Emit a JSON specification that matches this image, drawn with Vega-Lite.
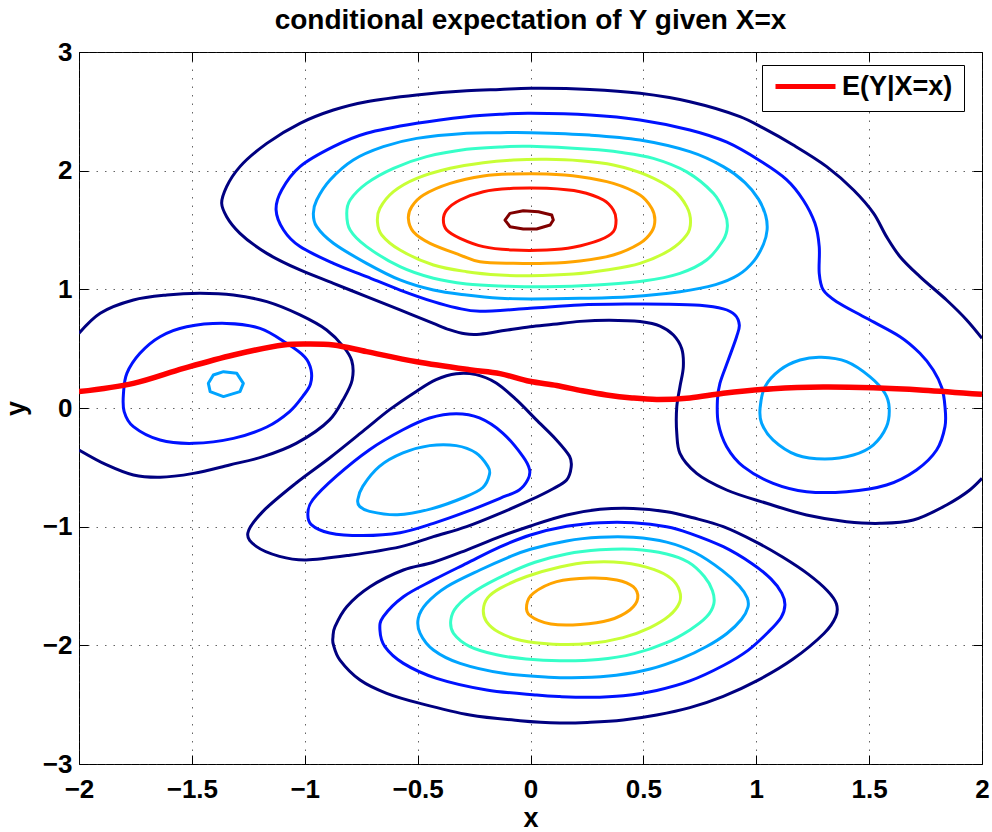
{
  "$schema": "https://vega.github.io/schema/vega-lite/v6.json",
  "width": 903,
  "height": 712,
  "autosize": {"type": "none"},
  "padding": {"left": 79, "top": 52, "right": 10, "bottom": 68},
  "background": "white",
  "title": {
    "text": "conditional expectation of Y given X=x",
    "font": "Liberation Sans",
    "fontSize": 28,
    "fontWeight": "bold",
    "color": "black",
    "anchor": "middle",
    "baseline": "alphabetic",
    "offset": -18
  },
  "config": {
    "view": {"stroke": "black", "strokeWidth": 1},
    "font": "Liberation Sans"
  },
  "datasets": {
    "open": [
      {"p":"n_top","lv":1,"i":0,"x":2.0,"y":-0.593},{"p":"n_top","lv":1,"i":1,"x":1.946,"y":-0.691},{"p":"n_top","lv":1,"i":2,"x":1.843,"y":-0.817},{"p":"n_top","lv":1,"i":3,"x":1.696,"y":-0.944},{"p":"n_top","lv":1,"i":4,"x":1.548,"y":-0.972},{"p":"n_top","lv":1,"i":5,"x":1.4,"y":-0.958},{"p":"n_top","lv":1,"i":6,"x":1.223,"y":-0.902},{"p":"n_top","lv":1,"i":7,"x":1.046,"y":-0.803},{"p":"n_top","lv":1,"i":8,"x":0.869,"y":-0.691},{"p":"n_top","lv":1,"i":9,"x":0.736,"y":-0.551},{"p":"n_top","lv":1,"i":10,"x":0.662,"y":-0.382},{"p":"n_top","lv":1,"i":11,"x":0.648,"y":-0.213},{"p":"n_top","lv":1,"i":12,"x":0.648,"y":0.011},{"p":"n_top","lv":1,"i":13,"x":0.662,"y":0.18},{"p":"n_top","lv":1,"i":14,"x":0.677,"y":0.348},{"p":"n_top","lv":1,"i":15,"x":0.67,"y":0.5},{"p":"n_top","lv":1,"i":16,"x":0.633,"y":0.615},{"p":"n_top","lv":1,"i":17,"x":0.574,"y":0.69},{"p":"n_top","lv":1,"i":18,"x":0.485,"y":0.728},{"p":"n_top","lv":1,"i":19,"x":0.35,"y":0.74},{"p":"n_top","lv":1,"i":20,"x":0.219,"y":0.73},{"p":"n_top","lv":1,"i":21,"x":0.1,"y":0.705},{"p":"n_top","lv":1,"i":22,"x":-0.002,"y":0.685},{"p":"n_top","lv":1,"i":23,"x":-0.11,"y":0.655},{"p":"n_top","lv":1,"i":24,"x":-0.224,"y":0.622},{"p":"n_top","lv":1,"i":25,"x":-0.29,"y":0.625},{"p":"n_top","lv":1,"i":26,"x":-0.36,"y":0.66},{"p":"n_top","lv":1,"i":27,"x":-0.43,"y":0.713},{"p":"n_top","lv":1,"i":28,"x":-0.578,"y":0.826},{"p":"n_top","lv":1,"i":29,"x":-0.726,"y":0.938},{"p":"n_top","lv":1,"i":30,"x":-0.873,"y":1.051},{"p":"n_top","lv":1,"i":31,"x":-1.021,"y":1.163},{"p":"n_top","lv":1,"i":32,"x":-1.168,"y":1.303},{"p":"n_top","lv":1,"i":33,"x":-1.287,"y":1.472},{"p":"n_top","lv":1,"i":34,"x":-1.346,"y":1.612},{"p":"n_top","lv":1,"i":35,"x":-1.368,"y":1.725},{"p":"n_top","lv":1,"i":36,"x":-1.346,"y":1.865},{"p":"n_top","lv":1,"i":37,"x":-1.287,"y":2.034},{"p":"n_top","lv":1,"i":38,"x":-1.168,"y":2.23},{"p":"n_top","lv":1,"i":39,"x":-1.021,"y":2.399},{"p":"n_top","lv":1,"i":40,"x":-0.873,"y":2.511},{"p":"n_top","lv":1,"i":41,"x":-0.726,"y":2.581},{"p":"n_top","lv":1,"i":42,"x":-0.504,"y":2.638},{"p":"n_top","lv":1,"i":43,"x":-0.283,"y":2.674},{"p":"n_top","lv":1,"i":44,"x":-0.135,"y":2.685},{"p":"n_top","lv":1,"i":45,"x":0.0,"y":2.694},{"p":"n_top","lv":1,"i":46,"x":0.263,"y":2.685},{"p":"n_top","lv":1,"i":47,"x":0.485,"y":2.652},{"p":"n_top","lv":1,"i":48,"x":0.706,"y":2.581},{"p":"n_top","lv":1,"i":49,"x":0.928,"y":2.455},{"p":"n_top","lv":1,"i":50,"x":1.03,"y":2.36},{"p":"n_top","lv":1,"i":51,"x":1.164,"y":2.216},{"p":"n_top","lv":1,"i":52,"x":1.312,"y":2.034},{"p":"n_top","lv":1,"i":53,"x":1.431,"y":1.837},{"p":"n_top","lv":1,"i":54,"x":1.52,"y":1.64},{"p":"n_top","lv":1,"i":55,"x":1.577,"y":1.444},{"p":"n_top","lv":1,"i":56,"x":1.637,"y":1.275},{"p":"n_top","lv":1,"i":57,"x":1.725,"y":1.107},{"p":"n_top","lv":1,"i":58,"x":1.843,"y":0.91},{"p":"n_top","lv":1,"i":59,"x":1.932,"y":0.742},{"p":"n_top","lv":1,"i":60,"x":2.0,"y":0.587},
      {"p":"n_left","lv":1,"i":0,"x":-2.0,"y":0.629},{"p":"n_left","lv":1,"i":1,"x":-1.906,"y":0.798},{"p":"n_left","lv":1,"i":2,"x":-1.759,"y":0.91},{"p":"n_left","lv":1,"i":3,"x":-1.611,"y":0.952},{"p":"n_left","lv":1,"i":4,"x":-1.464,"y":0.966},{"p":"n_left","lv":1,"i":5,"x":-1.316,"y":0.952},{"p":"n_left","lv":1,"i":6,"x":-1.168,"y":0.896},{"p":"n_left","lv":1,"i":7,"x":-1.021,"y":0.784},{"p":"n_left","lv":1,"i":8,"x":-0.903,"y":0.657},{"p":"n_left","lv":1,"i":9,"x":-0.829,"y":0.517},{"p":"n_left","lv":1,"i":10,"x":-0.792,"y":0.4},{"p":"n_left","lv":1,"i":11,"x":-0.79,"y":0.236},{"p":"n_left","lv":1,"i":12,"x":-0.831,"y":0.067},{"p":"n_left","lv":1,"i":13,"x":-0.89,"y":-0.1},{"p":"n_left","lv":1,"i":14,"x":-1.038,"y":-0.298},{"p":"n_left","lv":1,"i":15,"x":-1.185,"y":-0.41},{"p":"n_left","lv":1,"i":16,"x":-1.333,"y":-0.48},{"p":"n_left","lv":1,"i":17,"x":-1.493,"y":-0.551},{"p":"n_left","lv":1,"i":18,"x":-1.641,"y":-0.584},{"p":"n_left","lv":1,"i":19,"x":-1.759,"y":-0.565},{"p":"n_left","lv":1,"i":20,"x":-1.877,"y":-0.48},{"p":"n_left","lv":1,"i":21,"x":-2.0,"y":-0.354}
    ],
    "closed": [
      {"p":"n_mid","lv":1,"i":0,"x":-1.252,"y":-1.053},{"p":"n_mid","lv":1,"i":1,"x":-1.185,"y":-0.871},{"p":"n_mid","lv":1,"i":2,"x":-1.038,"y":-0.632},{"p":"n_mid","lv":1,"i":3,"x":-0.89,"y":-0.421},{"p":"n_mid","lv":1,"i":4,"x":-0.743,"y":-0.197},{"p":"n_mid","lv":1,"i":5,"x":-0.624,"y":-0.014},{"p":"n_mid","lv":1,"i":6,"x":-0.506,"y":0.14},{"p":"n_mid","lv":1,"i":7,"x":-0.418,"y":0.239},{"p":"n_mid","lv":1,"i":8,"x":-0.329,"y":0.289},{"p":"n_mid","lv":1,"i":9,"x":-0.241,"y":0.281},{"p":"n_mid","lv":1,"i":10,"x":-0.152,"y":0.211},{"p":"n_mid","lv":1,"i":11,"x":-0.063,"y":0.07},{"p":"n_mid","lv":1,"i":12,"x":0.025,"y":-0.098},{"p":"n_mid","lv":1,"i":13,"x":0.114,"y":-0.267},{"p":"n_mid","lv":1,"i":14,"x":0.173,"y":-0.407},{"p":"n_mid","lv":1,"i":15,"x":0.18,"y":-0.5},{"p":"n_mid","lv":1,"i":16,"x":0.16,"y":-0.607},{"p":"n_mid","lv":1,"i":17,"x":0.1,"y":-0.68},{"p":"n_mid","lv":1,"i":18,"x":0.0,"y":-0.775},{"p":"n_mid","lv":1,"i":19,"x":-0.135,"y":-0.888},{"p":"n_mid","lv":1,"i":20,"x":-0.283,"y":-1.0},{"p":"n_mid","lv":1,"i":21,"x":-0.43,"y":-1.084},{"p":"n_mid","lv":1,"i":22,"x":-0.578,"y":-1.17},{"p":"n_mid","lv":1,"i":23,"x":-0.8,"y":-1.24},{"p":"n_mid","lv":1,"i":24,"x":-0.994,"y":-1.28},{"p":"n_mid","lv":1,"i":25,"x":-1.112,"y":-1.25},{"p":"n_mid","lv":1,"i":26,"x":-1.215,"y":-1.166},
      {"p":"n_bot","lv":1,"i":0,"x":-0.875,"y":-1.93},{"p":"n_bot","lv":1,"i":1,"x":-0.866,"y":-1.843},{"p":"n_bot","lv":1,"i":2,"x":-0.814,"y":-1.674},{"p":"n_bot","lv":1,"i":3,"x":-0.711,"y":-1.506},{"p":"n_bot","lv":1,"i":4,"x":-0.563,"y":-1.365},{"p":"n_bot","lv":1,"i":5,"x":-0.43,"y":-1.3},{"p":"n_bot","lv":1,"i":6,"x":-0.283,"y":-1.197},{"p":"n_bot","lv":1,"i":7,"x":-0.135,"y":-1.084},{"p":"n_bot","lv":1,"i":8,"x":0.0,"y":-0.994},{"p":"n_bot","lv":1,"i":9,"x":0.16,"y":-0.902},{"p":"n_bot","lv":1,"i":10,"x":0.308,"y":-0.854},{"p":"n_bot","lv":1,"i":11,"x":0.455,"y":-0.846},{"p":"n_bot","lv":1,"i":12,"x":0.603,"y":-0.874},{"p":"n_bot","lv":1,"i":13,"x":0.72,"y":-0.925},{"p":"n_bot","lv":1,"i":14,"x":0.854,"y":-1.0},{"p":"n_bot","lv":1,"i":15,"x":1.0,"y":-1.13},{"p":"n_bot","lv":1,"i":16,"x":1.12,"y":-1.26},{"p":"n_bot","lv":1,"i":17,"x":1.23,"y":-1.4},{"p":"n_bot","lv":1,"i":18,"x":1.315,"y":-1.54},{"p":"n_bot","lv":1,"i":19,"x":1.355,"y":-1.65},{"p":"n_bot","lv":1,"i":20,"x":1.352,"y":-1.76},{"p":"n_bot","lv":1,"i":21,"x":1.3,"y":-1.9},{"p":"n_bot","lv":1,"i":22,"x":1.16,"y":-2.12},{"p":"n_bot","lv":1,"i":23,"x":1.002,"y":-2.3},{"p":"n_bot","lv":1,"i":24,"x":0.854,"y":-2.43},{"p":"n_bot","lv":1,"i":25,"x":0.706,"y":-2.525},{"p":"n_bot","lv":1,"i":26,"x":0.559,"y":-2.587},{"p":"n_bot","lv":1,"i":27,"x":0.411,"y":-2.629},{"p":"n_bot","lv":1,"i":28,"x":0.264,"y":-2.649},{"p":"n_bot","lv":1,"i":29,"x":0.13,"y":-2.655},{"p":"n_bot","lv":1,"i":30,"x":-0.047,"y":-2.635},{"p":"n_bot","lv":1,"i":31,"x":-0.268,"y":-2.587},{"p":"n_bot","lv":1,"i":32,"x":-0.489,"y":-2.489},{"p":"n_bot","lv":1,"i":33,"x":-0.637,"y":-2.404},{"p":"n_bot","lv":1,"i":34,"x":-0.755,"y":-2.292},{"p":"n_bot","lv":1,"i":35,"x":-0.844,"y":-2.124},{"p":"n_bot","lv":1,"i":36,"x":-0.873,"y":-1.995},
      {"p":"b_top","lv":2,"i":0,"x":-1.127,"y":1.67},{"p":"b_top","lv":2,"i":1,"x":-1.102,"y":1.837},{"p":"b_top","lv":2,"i":2,"x":-1.021,"y":2.034},{"p":"b_top","lv":2,"i":3,"x":-0.873,"y":2.202},{"p":"b_top","lv":2,"i":4,"x":-0.726,"y":2.315},{"p":"b_top","lv":2,"i":5,"x":-0.504,"y":2.399},{"p":"b_top","lv":2,"i":6,"x":-0.283,"y":2.455},{"p":"b_top","lv":2,"i":7,"x":-0.135,"y":2.475},{"p":"b_top","lv":2,"i":8,"x":0.0,"y":2.483},{"p":"b_top","lv":2,"i":9,"x":0.263,"y":2.469},{"p":"b_top","lv":2,"i":10,"x":0.485,"y":2.427},{"p":"b_top","lv":2,"i":11,"x":0.706,"y":2.343},{"p":"b_top","lv":2,"i":12,"x":0.87,"y":2.24},{"p":"b_top","lv":2,"i":13,"x":1.02,"y":2.08},{"p":"b_top","lv":2,"i":14,"x":1.134,"y":1.925},{"p":"b_top","lv":2,"i":15,"x":1.208,"y":1.753},{"p":"b_top","lv":2,"i":16,"x":1.26,"y":1.556},{"p":"b_top","lv":2,"i":17,"x":1.279,"y":1.36},{"p":"b_top","lv":2,"i":18,"x":1.279,"y":1.135},{"p":"b_top","lv":2,"i":19,"x":1.297,"y":0.994},{"p":"b_top","lv":2,"i":20,"x":1.356,"y":0.896},{"p":"b_top","lv":2,"i":21,"x":1.489,"y":0.756},{"p":"b_top","lv":2,"i":22,"x":1.637,"y":0.601},{"p":"b_top","lv":2,"i":23,"x":1.725,"y":0.461},{"p":"b_top","lv":2,"i":24,"x":1.784,"y":0.32},{"p":"b_top","lv":2,"i":25,"x":1.822,"y":0.17},{"p":"b_top","lv":2,"i":26,"x":1.836,"y":0.011},{"p":"b_top","lv":2,"i":27,"x":1.836,"y":-0.157},{"p":"b_top","lv":2,"i":28,"x":1.799,"y":-0.354},{"p":"b_top","lv":2,"i":29,"x":1.71,"y":-0.522},{"p":"b_top","lv":2,"i":30,"x":1.577,"y":-0.649},{"p":"b_top","lv":2,"i":31,"x":1.4,"y":-0.705},{"p":"b_top","lv":2,"i":32,"x":1.223,"y":-0.705},{"p":"b_top","lv":2,"i":33,"x":1.075,"y":-0.635},{"p":"b_top","lv":2,"i":34,"x":0.943,"y":-0.494},{"p":"b_top","lv":2,"i":35,"x":0.869,"y":-0.326},{"p":"b_top","lv":2,"i":36,"x":0.832,"y":-0.129},{"p":"b_top","lv":2,"i":37,"x":0.828,"y":0.067},{"p":"b_top","lv":2,"i":38,"x":0.839,"y":0.208},{"p":"b_top","lv":2,"i":39,"x":0.876,"y":0.404},{"p":"b_top","lv":2,"i":40,"x":0.913,"y":0.601},{"p":"b_top","lv":2,"i":41,"x":0.925,"y":0.699},{"p":"b_top","lv":2,"i":42,"x":0.906,"y":0.784},{"p":"b_top","lv":2,"i":43,"x":0.854,"y":0.835},{"p":"b_top","lv":2,"i":44,"x":0.75,"y":0.865},{"p":"b_top","lv":2,"i":45,"x":0.6,"y":0.875},{"p":"b_top","lv":2,"i":46,"x":0.441,"y":0.876},{"p":"b_top","lv":2,"i":47,"x":0.219,"y":0.868},{"p":"b_top","lv":2,"i":48,"x":-0.002,"y":0.84},{"p":"b_top","lv":2,"i":49,"x":-0.224,"y":0.815},{"p":"b_top","lv":2,"i":50,"x":-0.33,"y":0.845},{"p":"b_top","lv":2,"i":51,"x":-0.43,"y":0.896},{"p":"b_top","lv":2,"i":52,"x":-0.578,"y":0.994},{"p":"b_top","lv":2,"i":53,"x":-0.726,"y":1.107},{"p":"b_top","lv":2,"i":54,"x":-0.873,"y":1.219},{"p":"b_top","lv":2,"i":55,"x":-1.021,"y":1.36},{"p":"b_top","lv":2,"i":56,"x":-1.094,"y":1.5},
      {"p":"b_left","lv":2,"i":0,"x":-1.803,"y":0.124},{"p":"b_left","lv":2,"i":1,"x":-1.788,"y":0.292},{"p":"b_left","lv":2,"i":2,"x":-1.73,"y":0.461},{"p":"b_left","lv":2,"i":3,"x":-1.641,"y":0.601},{"p":"b_left","lv":2,"i":4,"x":-1.523,"y":0.685},{"p":"b_left","lv":2,"i":5,"x":-1.346,"y":0.713},{"p":"b_left","lv":2,"i":6,"x":-1.198,"y":0.671},{"p":"b_left","lv":2,"i":7,"x":-1.08,"y":0.545},{"p":"b_left","lv":2,"i":8,"x":-1.0,"y":0.43},{"p":"b_left","lv":2,"i":9,"x":-0.972,"y":0.32},{"p":"b_left","lv":2,"i":10,"x":-0.975,"y":0.2},{"p":"b_left","lv":2,"i":11,"x":-1.008,"y":0.1},{"p":"b_left","lv":2,"i":12,"x":-1.067,"y":-0.03},{"p":"b_left","lv":2,"i":13,"x":-1.168,"y":-0.16},{"p":"b_left","lv":2,"i":14,"x":-1.316,"y":-0.256},{"p":"b_left","lv":2,"i":15,"x":-1.493,"y":-0.298},{"p":"b_left","lv":2,"i":16,"x":-1.641,"y":-0.27},{"p":"b_left","lv":2,"i":17,"x":-1.759,"y":-0.157},{"p":"b_left","lv":2,"i":18,"x":-1.8,"y":-0.03},
      {"p":"b_mid","lv":2,"i":0,"x":-0.986,"y":-0.885},{"p":"b_mid","lv":2,"i":1,"x":-0.964,"y":-0.772},{"p":"b_mid","lv":2,"i":2,"x":-0.861,"y":-0.576},{"p":"b_mid","lv":2,"i":3,"x":-0.713,"y":-0.351},{"p":"b_mid","lv":2,"i":4,"x":-0.565,"y":-0.183},{"p":"b_mid","lv":2,"i":5,"x":-0.447,"y":-0.084},{"p":"b_mid","lv":2,"i":6,"x":-0.329,"y":-0.048},{"p":"b_mid","lv":2,"i":7,"x":-0.226,"y":-0.084},{"p":"b_mid","lv":2,"i":8,"x":-0.123,"y":-0.211},{"p":"b_mid","lv":2,"i":9,"x":-0.034,"y":-0.407},{"p":"b_mid","lv":2,"i":10,"x":-0.004,"y":-0.52},{"p":"b_mid","lv":2,"i":11,"x":-0.012,"y":-0.604},{"p":"b_mid","lv":2,"i":12,"x":-0.05,"y":-0.69},{"p":"b_mid","lv":2,"i":13,"x":-0.135,"y":-0.761},{"p":"b_mid","lv":2,"i":14,"x":-0.283,"y":-0.874},{"p":"b_mid","lv":2,"i":15,"x":-0.43,"y":-0.972},{"p":"b_mid","lv":2,"i":16,"x":-0.578,"y":-1.051},{"p":"b_mid","lv":2,"i":17,"x":-0.743,"y":-1.075},{"p":"b_mid","lv":2,"i":18,"x":-0.89,"y":-1.053},{"p":"b_mid","lv":2,"i":19,"x":-0.971,"y":-0.983},
      {"p":"b_bot","lv":2,"i":0,"x":-0.667,"y":-1.871},{"p":"b_bot","lv":2,"i":1,"x":-0.652,"y":-1.758},{"p":"b_bot","lv":2,"i":2,"x":-0.563,"y":-1.59},{"p":"b_bot","lv":2,"i":3,"x":-0.43,"y":-1.449},{"p":"b_bot","lv":2,"i":4,"x":-0.283,"y":-1.309},{"p":"b_bot","lv":2,"i":5,"x":-0.135,"y":-1.17},{"p":"b_bot","lv":2,"i":6,"x":0.0,"y":-1.07},{"p":"b_bot","lv":2,"i":7,"x":0.16,"y":-0.997},{"p":"b_bot","lv":2,"i":8,"x":0.308,"y":-0.966},{"p":"b_bot","lv":2,"i":9,"x":0.455,"y":-0.966},{"p":"b_bot","lv":2,"i":10,"x":0.603,"y":-1.0},{"p":"b_bot","lv":2,"i":11,"x":0.706,"y":-1.056},{"p":"b_bot","lv":2,"i":12,"x":0.854,"y":-1.169},{"p":"b_bot","lv":2,"i":13,"x":0.98,"y":-1.31},{"p":"b_bot","lv":2,"i":14,"x":1.065,"y":-1.44},{"p":"b_bot","lv":2,"i":15,"x":1.113,"y":-1.56},{"p":"b_bot","lv":2,"i":16,"x":1.127,"y":-1.66},{"p":"b_bot","lv":2,"i":17,"x":1.11,"y":-1.765},{"p":"b_bot","lv":2,"i":18,"x":1.055,"y":-1.885},{"p":"b_bot","lv":2,"i":19,"x":0.965,"y":-2.04},{"p":"b_bot","lv":2,"i":20,"x":0.854,"y":-2.17},{"p":"b_bot","lv":2,"i":21,"x":0.706,"y":-2.3},{"p":"b_bot","lv":2,"i":22,"x":0.559,"y":-2.38},{"p":"b_bot","lv":2,"i":23,"x":0.411,"y":-2.424},{"p":"b_bot","lv":2,"i":24,"x":0.264,"y":-2.438},{"p":"b_bot","lv":2,"i":25,"x":0.13,"y":-2.432},{"p":"b_bot","lv":2,"i":26,"x":0.027,"y":-2.419},{"p":"b_bot","lv":2,"i":27,"x":-0.194,"y":-2.376},{"p":"b_bot","lv":2,"i":28,"x":-0.416,"y":-2.278},{"p":"b_bot","lv":2,"i":29,"x":-0.563,"y":-2.152},{"p":"b_bot","lv":2,"i":30,"x":-0.645,"y":-2.011},
      {"p":"c_top","lv":3,"i":0,"x":-0.962,"y":1.64},{"p":"c_top","lv":3,"i":1,"x":-0.947,"y":1.753},{"p":"c_top","lv":3,"i":2,"x":-0.888,"y":1.921},{"p":"c_top","lv":3,"i":3,"x":-0.785,"y":2.09},{"p":"c_top","lv":3,"i":4,"x":-0.652,"y":2.202},{"p":"c_top","lv":3,"i":5,"x":-0.504,"y":2.272},{"p":"c_top","lv":3,"i":6,"x":-0.283,"y":2.315},{"p":"c_top","lv":3,"i":7,"x":-0.135,"y":2.32},{"p":"c_top","lv":3,"i":8,"x":0.0,"y":2.32},{"p":"c_top","lv":3,"i":9,"x":0.263,"y":2.3},{"p":"c_top","lv":3,"i":10,"x":0.485,"y":2.258},{"p":"c_top","lv":3,"i":11,"x":0.706,"y":2.16},{"p":"c_top","lv":3,"i":12,"x":0.854,"y":2.034},{"p":"c_top","lv":3,"i":13,"x":0.95,"y":1.9},{"p":"c_top","lv":3,"i":14,"x":1.01,"y":1.76},{"p":"c_top","lv":3,"i":15,"x":1.042,"y":1.62},{"p":"c_top","lv":3,"i":16,"x":1.048,"y":1.5},{"p":"c_top","lv":3,"i":17,"x":1.032,"y":1.38},{"p":"c_top","lv":3,"i":18,"x":0.99,"y":1.24},{"p":"c_top","lv":3,"i":19,"x":0.92,"y":1.12},{"p":"c_top","lv":3,"i":20,"x":0.82,"y":1.04},{"p":"c_top","lv":3,"i":21,"x":0.662,"y":0.98},{"p":"c_top","lv":3,"i":22,"x":0.441,"y":0.938},{"p":"c_top","lv":3,"i":23,"x":0.219,"y":0.924},{"p":"c_top","lv":3,"i":24,"x":-0.002,"y":0.919},{"p":"c_top","lv":3,"i":25,"x":-0.135,"y":0.925},{"p":"c_top","lv":3,"i":26,"x":-0.283,"y":0.952},{"p":"c_top","lv":3,"i":27,"x":-0.43,"y":0.994},{"p":"c_top","lv":3,"i":28,"x":-0.578,"y":1.079},{"p":"c_top","lv":3,"i":29,"x":-0.726,"y":1.219},{"p":"c_top","lv":3,"i":30,"x":-0.873,"y":1.388},{"p":"c_top","lv":3,"i":31,"x":-0.947,"y":1.528},
      {"p":"c_mid","lv":3,"i":0,"x":-0.765,"y":-0.772},{"p":"c_mid","lv":3,"i":1,"x":-0.743,"y":-0.66},{"p":"c_mid","lv":3,"i":2,"x":-0.669,"y":-0.492},{"p":"c_mid","lv":3,"i":3,"x":-0.565,"y":-0.379},{"p":"c_mid","lv":3,"i":4,"x":-0.447,"y":-0.317},{"p":"c_mid","lv":3,"i":5,"x":-0.329,"y":-0.317},{"p":"c_mid","lv":3,"i":6,"x":-0.241,"y":-0.379},{"p":"c_mid","lv":3,"i":7,"x":-0.189,"y":-0.492},{"p":"c_mid","lv":3,"i":8,"x":-0.182,"y":-0.562},{"p":"c_mid","lv":3,"i":9,"x":-0.211,"y":-0.67},{"p":"c_mid","lv":3,"i":10,"x":-0.29,"y":-0.75},{"p":"c_mid","lv":3,"i":11,"x":-0.44,"y":-0.85},{"p":"c_mid","lv":3,"i":12,"x":-0.59,"y":-0.9},{"p":"c_mid","lv":3,"i":13,"x":-0.713,"y":-0.871},{"p":"c_mid","lv":3,"i":14,"x":-0.757,"y":-0.829},
      {"p":"c_right","lv":3,"i":0,"x":1.017,"y":0.0},{"p":"c_right","lv":3,"i":1,"x":1.039,"y":0.18},{"p":"c_right","lv":3,"i":2,"x":1.105,"y":0.32},{"p":"c_right","lv":3,"i":3,"x":1.194,"y":0.404},{"p":"c_right","lv":3,"i":4,"x":1.289,"y":0.427},{"p":"c_right","lv":3,"i":5,"x":1.4,"y":0.39},{"p":"c_right","lv":3,"i":6,"x":1.503,"y":0.264},{"p":"c_right","lv":3,"i":7,"x":1.57,"y":0.124},{"p":"c_right","lv":3,"i":8,"x":1.589,"y":0.0},{"p":"c_right","lv":3,"i":9,"x":1.577,"y":-0.157},{"p":"c_right","lv":3,"i":10,"x":1.518,"y":-0.312},{"p":"c_right","lv":3,"i":11,"x":1.43,"y":-0.396},{"p":"c_right","lv":3,"i":12,"x":1.304,"y":-0.43},{"p":"c_right","lv":3,"i":13,"x":1.179,"y":-0.396},{"p":"c_right","lv":3,"i":14,"x":1.075,"y":-0.27},{"p":"c_right","lv":3,"i":15,"x":1.024,"y":-0.129},
      {"p":"c_bot","lv":3,"i":0,"x":-0.497,"y":-1.772},{"p":"c_bot","lv":3,"i":1,"x":-0.46,"y":-1.646},{"p":"c_bot","lv":3,"i":2,"x":-0.371,"y":-1.506},{"p":"c_bot","lv":3,"i":3,"x":-0.224,"y":-1.365},{"p":"c_bot","lv":3,"i":4,"x":-0.1,"y":-1.26},{"p":"c_bot","lv":3,"i":5,"x":0.0,"y":-1.19},{"p":"c_bot","lv":3,"i":6,"x":0.16,"y":-1.12},{"p":"c_bot","lv":3,"i":7,"x":0.308,"y":-1.09},{"p":"c_bot","lv":3,"i":8,"x":0.455,"y":-1.09},{"p":"c_bot","lv":3,"i":9,"x":0.603,"y":-1.13},{"p":"c_bot","lv":3,"i":10,"x":0.73,"y":-1.22},{"p":"c_bot","lv":3,"i":11,"x":0.85,"y":-1.37},{"p":"c_bot","lv":3,"i":12,"x":0.925,"y":-1.5},{"p":"c_bot","lv":3,"i":13,"x":0.96,"y":-1.6},{"p":"c_bot","lv":3,"i":14,"x":0.963,"y":-1.68},{"p":"c_bot","lv":3,"i":15,"x":0.935,"y":-1.78},{"p":"c_bot","lv":3,"i":16,"x":0.87,"y":-1.9},{"p":"c_bot","lv":3,"i":17,"x":0.78,"y":-2.01},{"p":"c_bot","lv":3,"i":18,"x":0.67,"y":-2.11},{"p":"c_bot","lv":3,"i":19,"x":0.53,"y":-2.2},{"p":"c_bot","lv":3,"i":20,"x":0.38,"y":-2.252},{"p":"c_bot","lv":3,"i":21,"x":0.23,"y":-2.272},{"p":"c_bot","lv":3,"i":22,"x":0.08,"y":-2.268},{"p":"c_bot","lv":3,"i":23,"x":-0.12,"y":-2.236},{"p":"c_bot","lv":3,"i":24,"x":-0.312,"y":-2.152},{"p":"c_bot","lv":3,"i":25,"x":-0.43,"y":-2.039},{"p":"c_bot","lv":3,"i":26,"x":-0.489,"y":-1.899},
      {"p":"a_top","lv":4,"i":0,"x":-0.814,"y":1.64},{"p":"a_top","lv":4,"i":1,"x":-0.799,"y":1.753},{"p":"a_top","lv":4,"i":2,"x":-0.726,"y":1.893},{"p":"a_top","lv":4,"i":3,"x":-0.607,"y":2.02},{"p":"a_top","lv":4,"i":4,"x":-0.46,"y":2.118},{"p":"a_top","lv":4,"i":5,"x":-0.283,"y":2.18},{"p":"a_top","lv":4,"i":6,"x":-0.135,"y":2.2},{"p":"a_top","lv":4,"i":7,"x":0.0,"y":2.205},{"p":"a_top","lv":4,"i":8,"x":0.263,"y":2.18},{"p":"a_top","lv":4,"i":9,"x":0.396,"y":2.155},{"p":"a_top","lv":4,"i":10,"x":0.544,"y":2.104},{"p":"a_top","lv":4,"i":11,"x":0.692,"y":1.99},{"p":"a_top","lv":4,"i":12,"x":0.81,"y":1.809},{"p":"a_top","lv":4,"i":13,"x":0.861,"y":1.64},{"p":"a_top","lv":4,"i":14,"x":0.872,"y":1.528},{"p":"a_top","lv":4,"i":15,"x":0.854,"y":1.416},{"p":"a_top","lv":4,"i":16,"x":0.78,"y":1.247},{"p":"a_top","lv":4,"i":17,"x":0.662,"y":1.135},{"p":"a_top","lv":4,"i":18,"x":0.5,"y":1.07},{"p":"a_top","lv":4,"i":19,"x":0.293,"y":1.037},{"p":"a_top","lv":4,"i":20,"x":0.072,"y":1.022},{"p":"a_top","lv":4,"i":21,"x":-0.135,"y":1.028},{"p":"a_top","lv":4,"i":22,"x":-0.283,"y":1.045},{"p":"a_top","lv":4,"i":23,"x":-0.43,"y":1.093},{"p":"a_top","lv":4,"i":24,"x":-0.578,"y":1.191},{"p":"a_top","lv":4,"i":25,"x":-0.726,"y":1.36},{"p":"a_top","lv":4,"i":26,"x":-0.799,"y":1.5},
      {"p":"a_bot","lv":4,"i":0,"x":-0.353,"y":-1.787},{"p":"a_bot","lv":4,"i":1,"x":-0.327,"y":-1.674},{"p":"a_bot","lv":4,"i":2,"x":-0.238,"y":-1.534},{"p":"a_bot","lv":4,"i":3,"x":-0.106,"y":-1.4},{"p":"a_bot","lv":4,"i":4,"x":0.02,"y":-1.3},{"p":"a_bot","lv":4,"i":5,"x":0.16,"y":-1.23},{"p":"a_bot","lv":4,"i":6,"x":0.308,"y":-1.195},{"p":"a_bot","lv":4,"i":7,"x":0.455,"y":-1.19},{"p":"a_bot","lv":4,"i":8,"x":0.603,"y":-1.23},{"p":"a_bot","lv":4,"i":9,"x":0.7,"y":-1.3},{"p":"a_bot","lv":4,"i":10,"x":0.77,"y":-1.42},{"p":"a_bot","lv":4,"i":11,"x":0.806,"y":-1.54},{"p":"a_bot","lv":4,"i":12,"x":0.812,"y":-1.65},{"p":"a_bot","lv":4,"i":13,"x":0.78,"y":-1.76},{"p":"a_bot","lv":4,"i":14,"x":0.706,"y":-1.87},{"p":"a_bot","lv":4,"i":15,"x":0.6,"y":-1.98},{"p":"a_bot","lv":4,"i":16,"x":0.46,"y":-2.07},{"p":"a_bot","lv":4,"i":17,"x":0.3,"y":-2.12},{"p":"a_bot","lv":4,"i":18,"x":0.13,"y":-2.13},{"p":"a_bot","lv":4,"i":19,"x":-0.02,"y":-2.115},{"p":"a_bot","lv":4,"i":20,"x":-0.15,"y":-2.08},{"p":"a_bot","lv":4,"i":21,"x":-0.268,"y":-2.011},{"p":"a_bot","lv":4,"i":22,"x":-0.341,"y":-1.899},
      {"p":"g_top","lv":5,"i":0,"x":-0.678,"y":1.57},{"p":"g_top","lv":5,"i":1,"x":-0.667,"y":1.683},{"p":"g_top","lv":5,"i":2,"x":-0.607,"y":1.823},{"p":"g_top","lv":5,"i":3,"x":-0.504,"y":1.935},{"p":"g_top","lv":5,"i":4,"x":-0.356,"y":2.02},{"p":"g_top","lv":5,"i":5,"x":-0.209,"y":2.067},{"p":"g_top","lv":5,"i":6,"x":-0.076,"y":2.09},{"p":"g_top","lv":5,"i":7,"x":0.072,"y":2.096},{"p":"g_top","lv":5,"i":8,"x":0.219,"y":2.084},{"p":"g_top","lv":5,"i":9,"x":0.367,"y":2.048},{"p":"g_top","lv":5,"i":10,"x":0.514,"y":1.963},{"p":"g_top","lv":5,"i":11,"x":0.633,"y":1.837},{"p":"g_top","lv":5,"i":12,"x":0.692,"y":1.697},{"p":"g_top","lv":5,"i":13,"x":0.709,"y":1.57},{"p":"g_top","lv":5,"i":14,"x":0.692,"y":1.458},{"p":"g_top","lv":5,"i":15,"x":0.618,"y":1.331},{"p":"g_top","lv":5,"i":16,"x":0.485,"y":1.219},{"p":"g_top","lv":5,"i":17,"x":0.337,"y":1.163},{"p":"g_top","lv":5,"i":18,"x":0.19,"y":1.129},{"p":"g_top","lv":5,"i":19,"x":-0.002,"y":1.115},{"p":"g_top","lv":5,"i":20,"x":-0.135,"y":1.121},{"p":"g_top","lv":5,"i":21,"x":-0.283,"y":1.149},{"p":"g_top","lv":5,"i":22,"x":-0.43,"y":1.205},{"p":"g_top","lv":5,"i":23,"x":-0.578,"y":1.331},{"p":"g_top","lv":5,"i":24,"x":-0.659,"y":1.458},
      {"p":"g_bot","lv":5,"i":0,"x":-0.209,"y":-1.702},{"p":"g_bot","lv":5,"i":1,"x":-0.19,"y":-1.6},{"p":"g_bot","lv":5,"i":2,"x":-0.135,"y":-1.52},{"p":"g_bot","lv":5,"i":3,"x":-0.017,"y":-1.42},{"p":"g_bot","lv":5,"i":4,"x":0.13,"y":-1.34},{"p":"g_bot","lv":5,"i":5,"x":0.264,"y":-1.3},{"p":"g_bot","lv":5,"i":6,"x":0.411,"y":-1.305},{"p":"g_bot","lv":5,"i":7,"x":0.545,"y":-1.36},{"p":"g_bot","lv":5,"i":8,"x":0.625,"y":-1.44},{"p":"g_bot","lv":5,"i":9,"x":0.66,"y":-1.54},{"p":"g_bot","lv":5,"i":10,"x":0.66,"y":-1.64},{"p":"g_bot","lv":5,"i":11,"x":0.615,"y":-1.75},{"p":"g_bot","lv":5,"i":12,"x":0.53,"y":-1.85},{"p":"g_bot","lv":5,"i":13,"x":0.41,"y":-1.935},{"p":"g_bot","lv":5,"i":14,"x":0.26,"y":-1.985},{"p":"g_bot","lv":5,"i":15,"x":0.1,"y":-1.99},{"p":"g_bot","lv":5,"i":16,"x":-0.04,"y":-1.96},{"p":"g_bot","lv":5,"i":17,"x":-0.14,"y":-1.89},{"p":"g_bot","lv":5,"i":18,"x":-0.195,"y":-1.8},
      {"p":"o_top","lv":6,"i":0,"x":-0.541,"y":1.598},{"p":"o_top","lv":6,"i":1,"x":-0.526,"y":1.697},{"p":"o_top","lv":6,"i":2,"x":-0.474,"y":1.795},{"p":"o_top","lv":6,"i":3,"x":-0.356,"y":1.893},{"p":"o_top","lv":6,"i":4,"x":-0.209,"y":1.955},{"p":"o_top","lv":6,"i":5,"x":-0.076,"y":1.972},{"p":"o_top","lv":6,"i":6,"x":0.072,"y":1.972},{"p":"o_top","lv":6,"i":7,"x":0.219,"y":1.949},{"p":"o_top","lv":6,"i":8,"x":0.367,"y":1.893},{"p":"o_top","lv":6,"i":9,"x":0.485,"y":1.795},{"p":"o_top","lv":6,"i":10,"x":0.537,"y":1.683},{"p":"o_top","lv":6,"i":11,"x":0.551,"y":1.584},{"p":"o_top","lv":6,"i":12,"x":0.537,"y":1.486},{"p":"o_top","lv":6,"i":13,"x":0.485,"y":1.388},{"p":"o_top","lv":6,"i":14,"x":0.367,"y":1.289},{"p":"o_top","lv":6,"i":15,"x":0.219,"y":1.239},{"p":"o_top","lv":6,"i":16,"x":0.072,"y":1.219},{"p":"o_top","lv":6,"i":17,"x":-0.076,"y":1.219},{"p":"o_top","lv":6,"i":18,"x":-0.224,"y":1.232},{"p":"o_top","lv":6,"i":19,"x":-0.312,"y":1.289},{"p":"o_top","lv":6,"i":20,"x":-0.445,"y":1.388},{"p":"o_top","lv":6,"i":21,"x":-0.519,"y":1.486},
      {"p":"o_bot","lv":6,"i":0,"x":-0.017,"y":-1.66},{"p":"o_bot","lv":6,"i":1,"x":0.013,"y":-1.56},{"p":"o_bot","lv":6,"i":2,"x":0.116,"y":-1.463},{"p":"o_bot","lv":6,"i":3,"x":0.264,"y":-1.433},{"p":"o_bot","lv":6,"i":4,"x":0.382,"y":-1.449},{"p":"o_bot","lv":6,"i":5,"x":0.455,"y":-1.506},{"p":"o_bot","lv":6,"i":6,"x":0.475,"y":-1.604},{"p":"o_bot","lv":6,"i":7,"x":0.44,"y":-1.702},{"p":"o_bot","lv":6,"i":8,"x":0.35,"y":-1.787},{"p":"o_bot","lv":6,"i":9,"x":0.22,"y":-1.825},{"p":"o_bot","lv":6,"i":10,"x":0.09,"y":-1.82},{"p":"o_bot","lv":6,"i":11,"x":-0.002,"y":-1.75},
      {"p":"r_top","lv":7,"i":0,"x":-0.386,"y":1.584},{"p":"r_top","lv":7,"i":1,"x":-0.371,"y":1.669},{"p":"r_top","lv":7,"i":2,"x":-0.312,"y":1.753},{"p":"r_top","lv":7,"i":3,"x":-0.209,"y":1.823},{"p":"r_top","lv":7,"i":4,"x":-0.076,"y":1.851},{"p":"r_top","lv":7,"i":5,"x":0.072,"y":1.851},{"p":"r_top","lv":7,"i":6,"x":0.219,"y":1.823},{"p":"r_top","lv":7,"i":7,"x":0.323,"y":1.753},{"p":"r_top","lv":7,"i":8,"x":0.367,"y":1.669},{"p":"r_top","lv":7,"i":9,"x":0.379,"y":1.584},{"p":"r_top","lv":7,"i":10,"x":0.367,"y":1.486},{"p":"r_top","lv":7,"i":11,"x":0.308,"y":1.416},{"p":"r_top","lv":7,"i":12,"x":0.19,"y":1.354},{"p":"r_top","lv":7,"i":13,"x":0.072,"y":1.331},{"p":"r_top","lv":7,"i":14,"x":-0.076,"y":1.331},{"p":"r_top","lv":7,"i":15,"x":-0.209,"y":1.36},{"p":"r_top","lv":7,"i":16,"x":-0.312,"y":1.43},{"p":"r_top","lv":7,"i":17,"x":-0.371,"y":1.5}
    ],
    "poly": [
      {"p":"c_left","lv":3,"i":0,"x":-1.427,"y":0.208},{"p":"c_left","lv":3,"i":1,"x":-1.405,"y":0.278},{"p":"c_left","lv":3,"i":2,"x":-1.36,"y":0.306},{"p":"c_left","lv":3,"i":3,"x":-1.301,"y":0.292},{"p":"c_left","lv":3,"i":4,"x":-1.272,"y":0.208},{"p":"c_left","lv":3,"i":5,"x":-1.287,"y":0.138},{"p":"c_left","lv":3,"i":6,"x":-1.36,"y":0.096},{"p":"c_left","lv":3,"i":7,"x":-1.419,"y":0.138},
      {"p":"d_top","lv":8,"i":0,"x":-0.113,"y":1.584},{"p":"d_top","lv":8,"i":1,"x":-0.091,"y":1.64},{"p":"d_top","lv":8,"i":2,"x":-0.032,"y":1.663},{"p":"d_top","lv":8,"i":3,"x":0.035,"y":1.654},{"p":"d_top","lv":8,"i":4,"x":0.094,"y":1.626},{"p":"d_top","lv":8,"i":5,"x":0.101,"y":1.584},{"p":"d_top","lv":8,"i":6,"x":0.087,"y":1.542},{"p":"d_top","lv":8,"i":7,"x":0.027,"y":1.508},{"p":"d_top","lv":8,"i":8,"x":-0.032,"y":1.508},{"p":"d_top","lv":8,"i":9,"x":-0.091,"y":1.528}
    ],
    "expectation": [
      {"i":0,"x":-2.0,"y":0.138},{"i":1,"x":-1.759,"y":0.208},{"i":2,"x":-1.537,"y":0.334},{"i":3,"x":-1.316,"y":0.447},{"i":4,"x":-1.095,"y":0.531},{"i":5,"x":-0.991,"y":0.539},{"i":6,"x":-0.873,"y":0.531},{"i":7,"x":-0.726,"y":0.475},{"i":8,"x":-0.504,"y":0.39},{"i":9,"x":-0.27,"y":0.323},{"i":10,"x":-0.135,"y":0.29},{"i":11,"x":-0.004,"y":0.225},{"i":12,"x":0.116,"y":0.19},{"i":13,"x":0.23,"y":0.145},{"i":14,"x":0.337,"y":0.11},{"i":15,"x":0.45,"y":0.085},{"i":16,"x":0.559,"y":0.072},{"i":17,"x":0.706,"y":0.085},{"i":18,"x":0.854,"y":0.124},{"i":19,"x":1.075,"y":0.163},{"i":20,"x":1.297,"y":0.177},{"i":21,"x":1.518,"y":0.17},{"i":22,"x":1.74,"y":0.15},{"i":23,"x":2.0,"y":0.115}
    ]
  },
  "layer": [
    {
      "data": {"name": "open"},
      "mark": {"type": "line", "interpolate": "catmull-rom", "strokeWidth": 3, "clip": true},
      "encoding": {
        "x": {
          "field": "x", "type": "quantitative",
          "scale": {"domain": [-2, 2], "nice": false, "zero": false},
          "axis": {
            "orient": "bottom",
            "values": [-2, -1.5, -1, -0.5, 0, 0.5, 1, 1.5, 2],
            "format": "~g",
            "title": "x",
            "titleFont": "Liberation Sans", "titleFontSize": 27, "titleFontWeight": "bold", "titleColor": "black",
            "titleY": 62, "titleBaseline": "alphabetic",
            "labelFont": "Liberation Sans", "labelFontSize": 26, "labelFontWeight": "bold", "labelColor": "black",
            "labelPadding": 21, "labelFlush": false,
            "tickSize": -9, "tickColor": "black", "tickWidth": 1,
            "domain": false,
            "grid": true, "gridColor": "#222222", "gridDash": [1.5, 7], "gridWidth": 1, "gridOpacity": 0.7
          }
        },
        "y": {
          "field": "y", "type": "quantitative",
          "scale": {"domain": [-3, 3], "nice": false, "zero": false},
          "axis": {
            "orient": "left",
            "values": [-3, -2, -1, 0, 1, 2, 3],
            "format": "~g",
            "title": "y",
            "titleFont": "Liberation Sans", "titleFontSize": 27, "titleFontWeight": "bold", "titleColor": "black",
            "titleX": -55, "titleY": 356, "titleAngle": -90, "titleAlign": "center", "titleBaseline": "alphabetic",
            "labelFont": "Liberation Sans", "labelFontSize": 26, "labelFontWeight": "bold", "labelColor": "black",
            "labelPadding": 16, "labelFlush": false,
            "tickSize": -9, "tickColor": "black", "tickWidth": 1,
            "domain": false,
            "grid": true, "gridColor": "#222222", "gridDash": [1.5, 7], "gridWidth": 1, "gridOpacity": 0.7
          }
        },
        "detail": {"field": "p"},
        "order": {"field": "i", "type": "quantitative"},
        "color": {
          "field": "lv", "type": "ordinal",
          "scale": {"domain": [1, 2, 3, 4, 5, 6, 7, 8], "range": ["#000080", "#0012FF", "#00A4FF", "#36FFC8", "#C8FF36", "#FFA400", "#FF1200", "#800000"]},
          "legend": null
        }
      }
    },
    {
      "data": {"name": "closed"},
      "mark": {"type": "line", "interpolate": "cardinal-closed", "strokeWidth": 3, "clip": true},
      "encoding": {
        "x": {"field": "x", "type": "quantitative", "axis": null},
        "y": {"field": "y", "type": "quantitative", "axis": null},
        "detail": {"field": "p"},
        "order": {"field": "i", "type": "quantitative"},
        "color": {
          "field": "lv", "type": "ordinal",
          "scale": {"domain": [1, 2, 3, 4, 5, 6, 7, 8], "range": ["#000080", "#0012FF", "#00A4FF", "#36FFC8", "#C8FF36", "#FFA400", "#FF1200", "#800000"]},
          "legend": null
        }
      }
    },
    {
      "data": {"name": "poly"},
      "mark": {"type": "line", "interpolate": "linear-closed", "strokeWidth": 3, "strokeJoin": "round", "clip": true},
      "encoding": {
        "x": {"field": "x", "type": "quantitative", "axis": null},
        "y": {"field": "y", "type": "quantitative", "axis": null},
        "detail": {"field": "p"},
        "order": {"field": "i", "type": "quantitative"},
        "color": {
          "field": "lv", "type": "ordinal",
          "scale": {"domain": [1, 2, 3, 4, 5, 6, 7, 8], "range": ["#000080", "#0012FF", "#00A4FF", "#36FFC8", "#C8FF36", "#FFA400", "#FF1200", "#800000"]},
          "legend": null
        }
      }
    },
    {
      "data": {"name": "expectation"},
      "mark": {"type": "line", "interpolate": "catmull-rom", "strokeWidth": 5.5, "clip": true},
      "encoding": {
        "x": {
          "field": "x", "type": "quantitative",
          "axis": {"orient": "top", "values": [-2, -1.5, -1, -0.5, 0, 0.5, 1, 1.5, 2], "labels": false, "title": null, "tickSize": -9, "tickColor": "black", "domain": false, "grid": false}
        },
        "y": {
          "field": "y", "type": "quantitative",
          "axis": {"orient": "right", "values": [-3, -2, -1, 0, 1, 2, 3], "labels": false, "title": null, "tickSize": -9, "tickColor": "black", "domain": false, "grid": false}
        },
        "order": {"field": "i", "type": "quantitative"},
        "color": {
          "datum": "E(Y|X=x)", "type": "nominal",
          "scale": {"range": ["#FF0000"]},
          "legend": {
            "title": null,
            "orient": "none", "legendX": 683, "legendY": 13,
            "symbolType": "stroke", "symbolSize": 3600, "symbolStrokeWidth": 5,
            "clipHeight": 21,
            "labelFont": "Liberation Sans", "labelFontSize": 27, "labelFontWeight": "bold", "labelColor": "black",
            "labelOffset": 4, "labelLimit": 400,
            "strokeColor": "black", "fillColor": "white", "padding": 11
          }
        }
      }
    }
  ],
  "resolve": {
    "scale": {"color": "independent"},
    "axis": {"x": "independent", "y": "independent"}
  }
}
